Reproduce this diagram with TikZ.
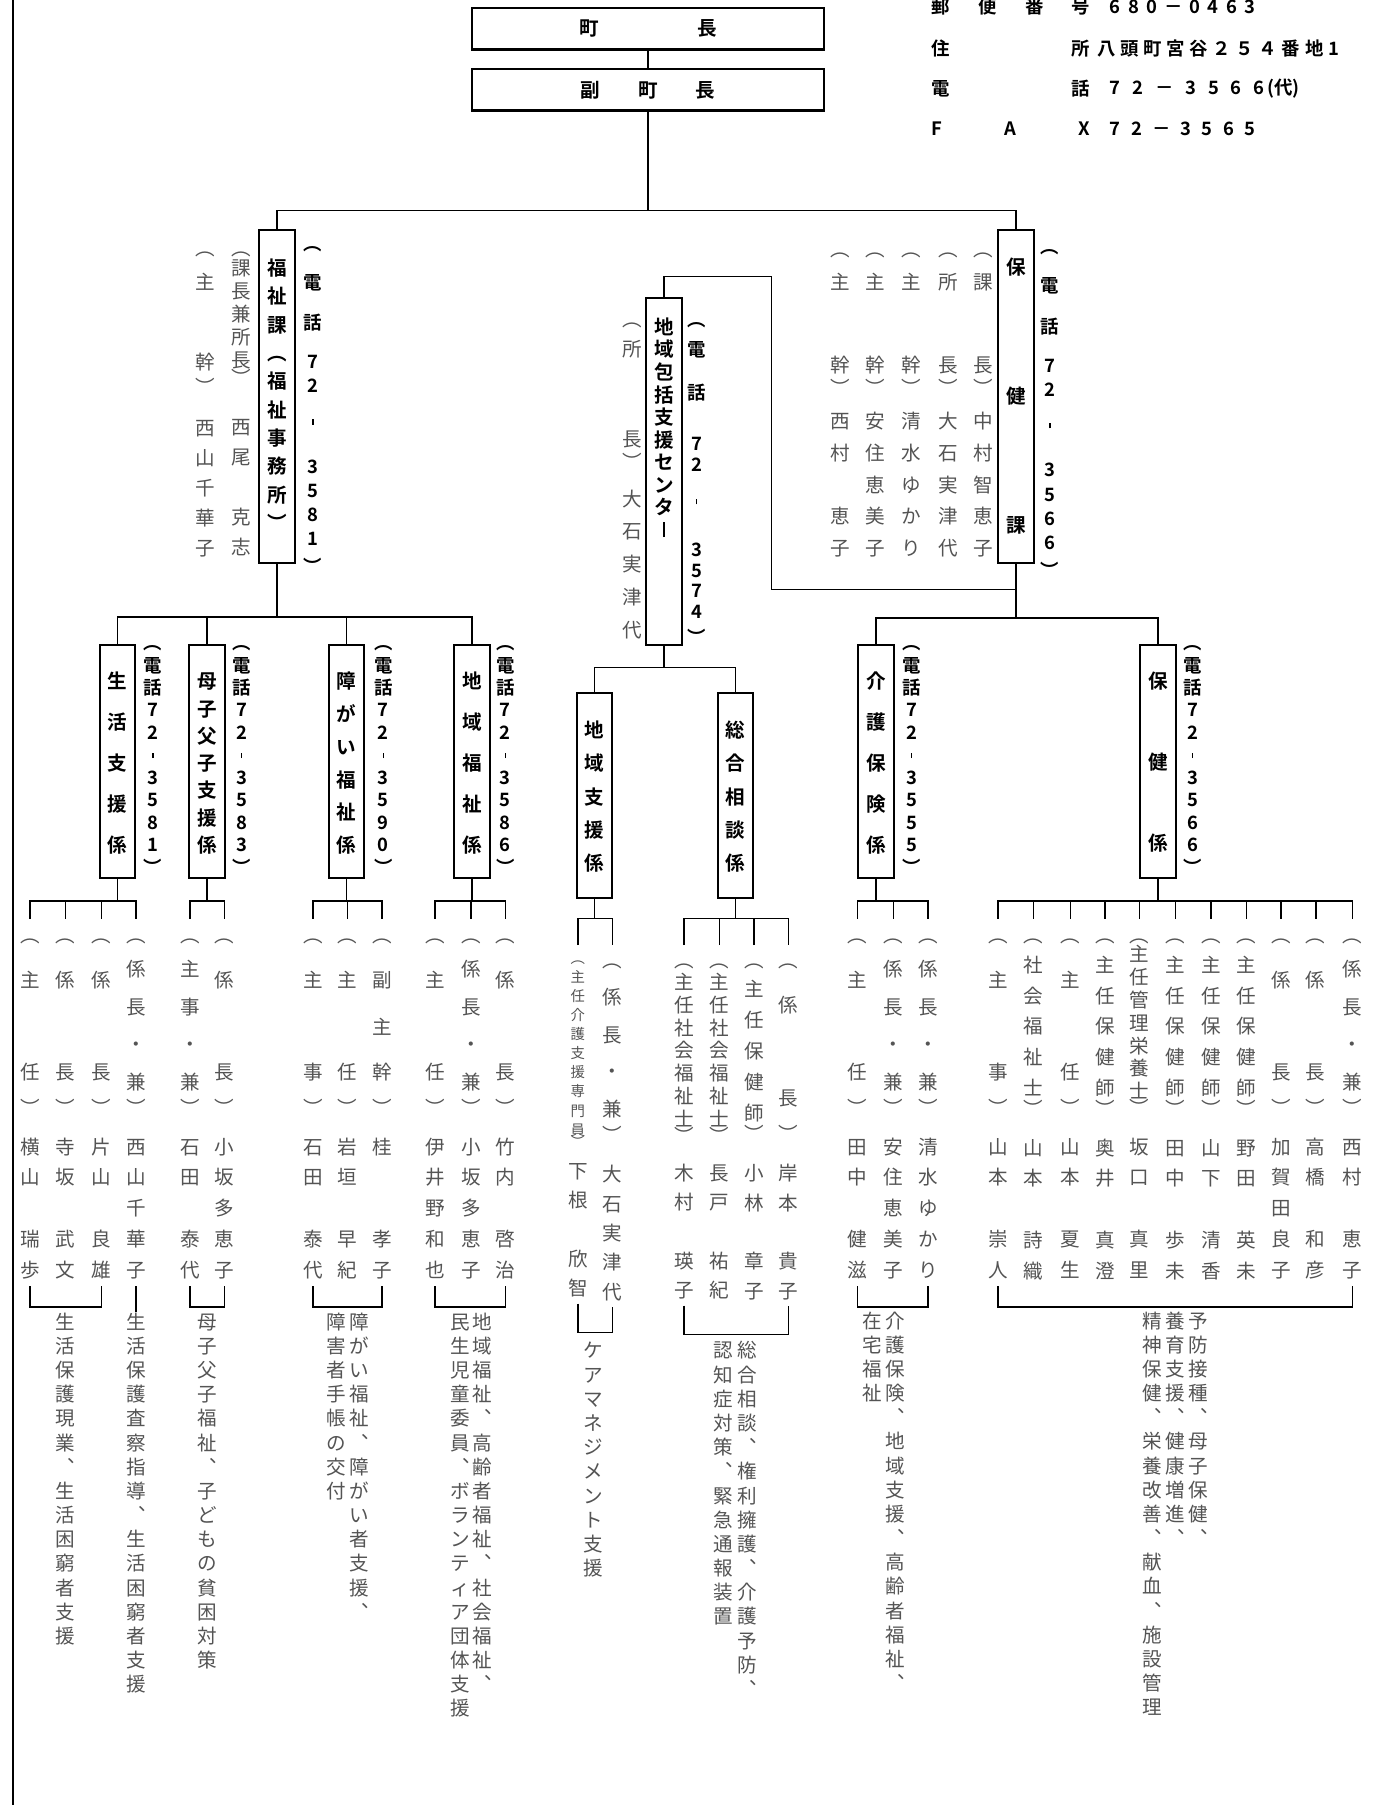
\documentclass[tikz,border=0pt]{standalone}
\usepackage{fontspec}
\setmainfont{Noto Sans CJK JP}[BoldFont={Noto Sans CJK JP Bold}]
\definecolor{txtgray}{gray}{0.33}

% font sizes
\protected\def\fNm{\fontsize{17pt}{20pt}\selectfont}
\protected\def\fSm{\fontsize{12.5pt}{15pt}\selectfont}
\protected\def\fBox{\fontsize{17pt}{20pt}\selectfont\bfseries}
\protected\def\fTel{\fontsize{16pt}{19pt}\selectfont\bfseries}
\protected\def\fHdr{\fontsize{16pt}{19pt}\selectfont\bfseries}

% vertical text: one cell per character
\NewDocumentCommand\vgap{m}{\kern#1\relax}
\NewDocumentCommand\vp{m}{\baselineskip=#1\relax}
\NewDocumentCommand\vf{m}{#1}
\NewDocumentCommand\vb{}{}
\NewDocumentCommand\vd{}{\rule[.2em]{1.3pt}{.3em}}
\NewDocumentCommand\vl{}{\rule[.02em]{1.5pt}{.76em}}
\ExplSyntaxOn
\tl_new:N \l__vt_tl
\cs_new_protected:Npn \__vt_item:n #1
  {
    \tl_if_head_eq_meaning:nNTF {#1} \vgap {#1}
      {
        \tl_if_head_eq_meaning:nNTF {#1} \vp {#1}
          {
            \tl_if_head_eq_meaning:nNTF {#1} \vf {#1}
              { \hbox_to_wd:nn {24pt} { \hfil \vrule ~ height ~ .88em ~ depth ~ .12em ~ width ~ 0pt \relax #1 \hfil } }
          }
      }
  }
\NewDocumentCommand \vs { m m }
  {
    \tl_set:Nx \l__vt_tl {#2}
    \vbox:n
      {
        \skip_set:Nn \baselineskip {#1}
        \lineskiplimit = -\maxdimen
        \lineskip = 0pt
        \tl_map_function:NN \l__vt_tl \__vt_item:n
      }
  }
\ExplSyntaxOff
\NewDocumentCommand\bx{mmmm}{\vbox to #1{\kern#2\relax\vs{#3}{#4}\vfil}}

% titles of the staff columns
\newcommand\tii[2]{︵{\vgap{12.3pt}}#1{\vgap{53.3pt}}#2{\vgap{4.3pt}}︶{\vgap{7.3pt}}}
\newcommand\tiii[3]{︵{\vgap{12.3pt}}#1{\vgap{14.3pt}}#2{\vgap{12.3pt}}#3{\vgap{4.3pt}}︶{\vgap{7.3pt}}}
\newcommand\tiv[4]{︵{\vgap{3.3pt}}#1{\vgap{6.3pt}}#2{\vgap{5.3pt}}#3{\vgap{6.3pt}}#4{\vgap{-4.7pt}}︶{\vgap{7.3pt}}}
\newcommand\tv[5]{︵{\vgap{-0.7pt}}#1#2#3#4#5{\vgap{-8.7pt}}︶{\vgap{7.3pt}}}
\newcommand\tvii[7]{︵{\vp{19.8pt}}{\vgap{-2.8pt}}#1#2#3#4#5#6#7{\vgap{-5.6pt}}︶{\vp{26.7pt}}{\vgap{7.3pt}}}
\newcommand\cii[2]{︵{\vgap{13.5pt}}#1{\vgap{55.5pt}}#2{\vgap{5.5pt}}︶{\vgap{8.5pt}}}
\newcommand\civ[4]{︵{\vgap{6.5pt}}#1{\vgap{7.5pt}}#2{\vgap{5.5pt}}#3{\vgap{7.5pt}}#4{\vgap{-2.5pt}}︶{\vgap{8.5pt}}}
\newcommand\cv[5]{︵{\vp{27pt}}{\vgap{-2pt}}#1#2#3#4#5{\vgap{-9pt}}︶{\vp{25.5pt}}{\vgap{8.5pt}}}
\newcommand\cvii[7]{︵{\vp{19.8pt}}{\vgap{-0.8pt}}#1#2#3#4#5#6#7{\vgap{-4.8pt}}︶{\vp{25.5pt}}{\vgap{6.5pt}}}
\newcommand\kt[2]{︵{\vgap{1.5pt}}#1{\vgap{44.5pt}}#2{\vgap{-7.5pt}}︶{\vgap{1.5pt}}}
% phone numbers
\newcommand\ttel[4]{︵{\vgap{13pt}}電{\vgap{14pt}}話{\vgap{13pt}}72{\vgap{10pt}}\vd {\vgap{18pt}}#1#2#3#4{\vgap{3pt}}︶}
\newcommand\stel[4]{︵電話72\vd #1#2#3#4︶}

\begin{document}
\begin{tikzpicture}[x=1pt, y=-1pt,
  conn/.style={line width=1.3pt},
  topbox/.style={draw, line width=1.8pt, minimum width=306pt, minimum height=36pt, inner sep=0pt, font=\fBox},
  secbox/.style={draw, line width=1.8pt, minimum width=31pt, inner sep=0pt, font=\fBox},
  tel/.style={anchor=north, inner sep=0pt, font=\fTel},
  col/.style={anchor=north, inner sep=0pt, font=\fNm, text=txtgray},
  mem/.style={col, inner ysep=5.5pt},
  cmem/.style={col, inner ysep=4.5pt},
  hdr/.style={anchor=west, inner sep=0pt, font=\fHdr}]
\useasboundingbox (0,0) rectangle (1192,1568);
\draw[line width=1.6pt] (11,0) -- (11,1568);

% header
\node[topbox] (chou) at (563,25) {町\hspace{86pt}長};
\node[topbox] (fuku) at (563,78) {副\hspace{33pt}町\hspace{33pt}長};
\node[hdr] (zip-l) at (809,6) {\makebox[138pt][s]{郵\hfill 便\hfill 番\hfill 号}};
\node[hdr] (zip-v) at (964,6) {\makebox[126pt][s]{6\hfill 8\hfill 0\hfill －\hfill 0\hfill 4\hfill 6\hfill 3}};
\node[hdr] (adr-l) at (809,42) {\makebox[138pt][s]{住\hfill 所}};
\node[hdr] (adr-v) at (953,42) {\makebox[210pt][s]{八\hfill 頭\hfill 町\hfill 宮\hfill 谷\hfill ２\hfill ５\hfill ４\hfill 番\hfill 地\hfill 1}};
\node[hdr] (tel-l) at (809,77) {\makebox[138pt][s]{電\hfill 話}};
\node[hdr] (tel-v) at (964,77) {\makebox[134pt][s]{7\hfill 2\hfill －\hfill 3\hfill 5\hfill 6\hfill 6}\,(代)};
\node[hdr] (fax-l) at (809,112) {\makebox[138pt][s]{F\hfill A\hfill X}};
\node[hdr] (fax-v) at (964,112) {\makebox[126pt][s]{7\hfill 2\hfill －\hfill 3\hfill 5\hfill 6\hfill 5}};

% sections
\node[secbox, minimum height=289pt] (fukushi) at (240.5,344.5) {\bx{289pt}{24.5pt}{24.6pt}{福祉課︵福祉事務所︶}};
\node[tel] (fukushi-tel) at (272,203) {\vs{21pt}{\ttel3581}};
\node[col] (fukushi-n1) at (210,206.5) {\vs{20pt}{︵{\vgap{-2pt}}課長兼所長{\vgap{-5pt}}︶{\vp{26pt}}{\vgap{17pt}}西尾\vb 克志}};
\node[col] (fukushi-n2) at (178,206.5) {\vs{26pt}{︵{\vgap{4pt}}主{\vgap{43pt}}幹{\vgap{-4pt}}︶{\vgap{10pt}}西山千華子}};

\node[secbox, minimum height=289pt] (hokenka) at (882.5,344.5) {\bx{289pt}{23.5pt}{112pt}{保健課}};
\node[tel] (hokenka-tel) at (912,206) {\vs{21pt}{\ttel3566}};
\node[col] (hokenka-n1) at (854,207.5) {\vs{27.5pt}{\kt{課}{長}中村智恵子}};
\node[col] (hokenka-n2) at (824,207.5) {\vs{27.5pt}{\kt{所}{長}大石実津代}};
\node[col] (hokenka-n3) at (792,207.5) {\vs{27.5pt}{\kt{主}{幹}清水ゆかり}};
\node[col] (hokenka-n4) at (760,207.5) {\vs{27.5pt}{\kt{主}{幹}安住恵美子}};
\node[col] (hokenka-n5) at (730,207.5) {\vs{27.5pt}{\kt{主}{幹}西村\vb 恵子}};

\node[secbox, minimum height=301pt] (houkatsu) at (577,409.5) {\bx{301pt}{16.5pt}{19.6pt}{地域包括支援センタ\vl}};
\node[tel] (houkatsu-tel) at (605,269) {\vs{18pt}{︵{\vgap{8pt}}電{\vgap{20pt}}話{\vgap{26pt}}72{\vgap{14pt}}\vd {\vgap{24pt}}3574{\vgap{5pt}}︶}};
\node[col] (houkatsu-n1) at (549,268.5) {\vs{28.5pt}{︵{\vgap{-2.5pt}}所{\vgap{49.5pt}}長{\vgap{-8.5pt}}︶{\vgap{3.5pt}}大石実津代}};

% units
\node[secbox, minimum height=203pt] (seikatsu) at (102,661.5) {\bx{203pt}{23.5pt}{35.5pt}{生活支援係}};
\node[tel] (seikatsu-tel) at (133,550) {\vs{19.5pt}{\stel3581}};
\node[secbox, minimum height=203pt] (boshi) at (180,661.5) {\bx{203pt}{23.5pt}{23.67pt}{母子父子支援係}};
\node[tel] (boshi-tel) at (210,550) {\vs{19.5pt}{\stel3583}};
\node[secbox, minimum height=203pt] (shogai) at (301,661.5) {\bx{203pt}{23.5pt}{28.4pt}{障がい福祉係}};
\node[tel] (shogai-tel) at (333,550) {\vs{19.5pt}{\stel3590}};
\node[secbox, minimum height=203pt] (chiikifk) at (410,661.5) {\bx{203pt}{23.5pt}{35.5pt}{地域福祉係}};
\node[tel] (chiikifk-tel) at (439,550) {\vs{19.5pt}{\stel3586}};
\node[secbox, minimum height=178pt] (chsien) at (516.5,691) {\bx{178pt}{23.5pt}{29pt}{地域支援係}};
\node[secbox, minimum height=178pt] (sogo) at (639,691) {\bx{178pt}{23.5pt}{29pt}{総合相談係}};
\node[secbox, minimum height=203pt] (kaigo) at (761,661.5) {\bx{203pt}{23.5pt}{35.5pt}{介護保険係}};
\node[tel] (kaigo-tel) at (792,550) {\vs{19.5pt}{\stel3555}};
\node[secbox, minimum height=203pt] (hokenkk) at (1006,661.5) {\bx{203pt}{23.5pt}{70pt}{保健係}};
\node[tel] (hokenkk-tel) at (1036,550) {\vs{19.5pt}{\stel3566}};

% staff
\node[mem] (sk1) at (26,798) {\vs{26.7pt}{\tii{主}{任}横山\vb 瑞歩}};
\node[mem] (sk2) at (57,798) {\vs{26.7pt}{\tii{係}{長}寺坂\vb 武文}};
\node[mem] (sk3) at (88,798) {\vs{26.7pt}{\tii{係}{長}片山\vb 良雄}};
\node[mem] (sk4) at (118,798) {\vs{26.7pt}{\tiv{係}{長}{・}{兼}西山千華子}};
\node[mem] (bs1) at (165,798) {\vs{26.7pt}{\tiv{主}{事}{・}{兼}石田\vb 泰代}};
\node[mem] (bs2) at (195,798) {\vs{26.7pt}{\tii{係}{長}小坂多恵子}};
\node[mem] (sg1) at (272,798) {\vs{26.7pt}{\tii{主}{事}石田\vb 泰代}};
\node[mem] (sg2) at (302,798) {\vs{26.7pt}{\tii{主}{任}岩垣\vb 早紀}};
\node[mem] (sg3) at (332,798) {\vs{26.7pt}{\tiii{副}{主}{幹}桂\vb \vb 孝子}};
\node[mem] (cf1) at (378,798) {\vs{26.7pt}{\tii{主}{任}伊井野和也}};
\node[mem] (cf2) at (409,798) {\vs{26.7pt}{\tiv{係}{長}{・}{兼}小坂多恵子}};
\node[mem] (cf3) at (439,798) {\vs{26.7pt}{\tii{係}{長}竹内\vb 啓治}};
\node[cmem] (cs1) at (502,821) {\vs{16.6pt}{{\vf{\fSm}}{\vp{16.6pt}}︵主任介護支援専門員{\vgap{-5.5pt}}︶{\vf{\fNm}}{\vp{25.5pt}}{\vgap{1pt}}下根\vb 欣智}};
\node[cmem] (cs2) at (532,821) {\vs{25.5pt}{\civ{係}{長}{・}{兼}大石実津代}};
\node[cmem] (so1) at (594,821) {\vs{25.5pt}{\cvii{主}{任}{社}{会}{福}{祉}{士}木村\vb 瑛子}};
\node[cmem] (so2) at (625,821) {\vs{25.5pt}{\cvii{主}{任}{社}{会}{福}{祉}{士}長戸\vb 祐紀}};
\node[cmem] (so3) at (655,821) {\vs{25.5pt}{\cv{主}{任}{保}{健}{師}小林\vb 章子}};
\node[cmem] (so4) at (685,821) {\vs{25.5pt}{\cii{係}{長}岸本\vb 貴子}};
\node[mem] (kg1) at (745,798) {\vs{26.7pt}{\tii{主}{任}田中\vb 健滋}};
\node[mem] (kg2) at (776,798) {\vs{26.7pt}{\tiv{係}{長}{・}{兼}安住恵美子}};
\node[mem] (kg3) at (806,798) {\vs{26.7pt}{\tiv{係}{長}{・}{兼}清水ゆかり}};
\node[mem] (hk1) at (867,798) {\vs{26.7pt}{\tii{主}{事}山本\vb 崇人}};
\node[mem] (hk2) at (898,798) {\vs{26.7pt}{\tv{社}{会}{福}{祉}{士}山本\vb 詩織}};
\node[mem] (hk3) at (930,798) {\vs{26.7pt}{\tii{主}{任}山本\vb 夏生}};
\node[mem] (hk4) at (960,798) {\vs{26.7pt}{\tv{主}{任}{保}{健}{師}奥井\vb 真澄}};
\node[mem] (hk5) at (990,798) {\vs{26.7pt}{\tvii{主}{任}{管}{理}{栄}{養}{士}坂口\vb 真里}};
\node[mem] (hk6) at (1021,798) {\vs{26.7pt}{\tv{主}{任}{保}{健}{師}田中\vb 歩未}};
\node[mem] (hk7) at (1052,798) {\vs{26.7pt}{\tv{主}{任}{保}{健}{師}山下\vb 清香}};
\node[mem] (hk8) at (1083,798) {\vs{26.7pt}{\tv{主}{任}{保}{健}{師}野田\vb 英未}};
\node[mem] (hk9) at (1113,798) {\vs{26.7pt}{\tii{係}{長}加賀田良子}};
\node[mem] (hk10) at (1143,798) {\vs{26.7pt}{\tii{係}{長}高橋\vb 和彦}};
\node[mem] (hk11) at (1175,798) {\vs{26.7pt}{\tiv{係}{長}{・}{兼}西村\vb 恵子}};

% duties
\node[col] (d-sk1) at (57,1139.5) {\vs{21pt}{生活保護現業︑生活困窮者支援}};
\node[col] (d-sk2) at (118,1139.5) {\vs{21pt}{生活保護査察指導︑生活困窮者支援}};
\node[col] (d-bs) at (180,1139.5) {\vs{21pt}{母子父子福祉︑子どもの貧困対策}};
\node[col] (d-sg1) at (312,1139.5) {\vs{21pt}{障がい福祉︑障がい者支援︑}};
\node[col] (d-sg2) at (292,1139.5) {\vs{21pt}{障害者手帳の交付}};
\node[col] (d-cf1) at (419,1139.5) {\vs{21pt}{地域福祉︑高齢者福祉︑社会福祉︑}};
\node[col] (d-cf2) at (400,1139.5) {\vs{21pt}{民生児童委員︑ボランティア団体支援}};
\node[col] (d-cs) at (515,1164.5) {\vs{21pt}{ケアマネジメント支援}};
\node[col] (d-so1) at (649,1164.5) {\vs{21pt}{総合相談︑権利擁護︑介護予防︑}};
\node[col] (d-so2) at (628,1164.5) {\vs{21pt}{認知症対策︑緊急通報装置}};
\node[col] (d-kg1) at (778,1138.5) {\vs{21pt}{介護保険︑地域支援︑高齢者福祉︑}};
\node[col] (d-kg2) at (758,1138.5) {\vs{21pt}{在宅福祉}};
\node[col] (d-hk1) at (1041,1138.5) {\vs{21pt}{予防接種︑母子保健︑}};
\node[col] (d-hk2) at (1021,1138.5) {\vs{21pt}{養育支援︑健康増進︑}};
\node[col] (d-hk3) at (1001,1138.5) {\vs{21pt}{精神保健︑栄養改善︑献血︑施設管理}};

% lines
\coordinate (bus-top) at (563,183);
\coordinate (hc-turn) at (670,240);
\coordinate (hk-join) at (882.5,512);
\coordinate (bus-hk) at (882.5,537);
\coordinate (bus-fk) at (240.5,536);
\coordinate (bus-hc) at (577,580);
\draw[conn] (chou) -- (fuku);
\draw[conn] (fuku) -- (bus-top);
\draw[conn] (fukushi.north) |- (bus-top) -| (hokenka.north);
\draw[conn] (houkatsu.north) |- (hc-turn) |- (hk-join);
\draw[conn] (hokenka.south) -- (bus-hk);
\draw[conn] (kaigo.north) |- (bus-hk) -| (hokenkk.north);
\draw[conn] (fukushi.south) -- (bus-fk);
\draw[conn] (seikatsu.north) |- (bus-fk) -| (chiikifk.north);
\foreach \b in {boshi,shogai} \draw[conn] (\b.north) -- (\b.north |- bus-fk);
\draw[conn] (houkatsu.south) -- (bus-hc);
\draw[conn] (chsien.north) |- (bus-hc) -| (sogo.north);

\draw[conn] (seikatsu.south) -- ++(0,19) coordinate (bus-sk);
\draw[conn] (sk1.north) |- (bus-sk) -| (sk4.north);
\foreach \m in {sk2,sk3} \draw[conn] (\m.north) -- (\m.north |- bus-sk);
\draw[conn] (boshi.south) -- ++(0,19) coordinate (bus-bs);
\draw[conn] (bs1.north) |- (bus-bs) -| (bs2.north);
\draw[conn] (shogai.south) -- ++(0,19) coordinate (bus-sg);
\draw[conn] (sg1.north) |- (bus-sg) -| (sg3.north);
\draw[conn] (sg2.north) -- (sg2.north |- bus-sg);
\draw[conn] (chiikifk.south) -- ++(0,19) coordinate (bus-cf);
\draw[conn] (cf1.north) |- (bus-cf) -| (cf3.north);
\draw[conn] (cf2.north) -- (cf2.north |- bus-cf);
\draw[conn] (chsien.south) -- ++(0,17) coordinate (bus-cs);
\draw[conn] (cs1.north) |- (bus-cs) -| (cs2.north);
\draw[conn] (sogo.south) -- ++(0,17) coordinate (bus-so);
\draw[conn] (so1.north) |- (bus-so) -| (so4.north);
\foreach \m in {so2,so3} \draw[conn] (\m.north) -- (\m.north |- bus-so);
\draw[conn] (kaigo.south) -- ++(0,19) coordinate (bus-kg);
\draw[conn] (kg1.north) |- (bus-kg) -| (kg3.north);
\draw[conn] (kg2.north) -- (kg2.north |- bus-kg);
\draw[conn] (hokenkk.south) -- ++(0,19) coordinate (bus-hkk);
\draw[conn] (hk1.north) |- (bus-hkk) -| (hk11.north);
\foreach \m in {hk2,hk3,hk4,hk5,hk6,hk7,hk8,hk9,hk10} \draw[conn] (\m.north) -- (\m.north |- bus-hkk);

% brackets to duties
\draw[conn] (sk1.south) -- ++(0,18) -| (sk3.south);
\draw[conn] (sk4.south) -- (d-sk2.north);
\draw[conn] (bs1.south) -- ++(0,18) -| (bs2.south);
\draw[conn] (sg1.south) -- ++(0,18) -| (sg3.south);
\draw[conn] (cf1.south) -- ++(0,18) -| (cf3.south);
\draw[conn] (cs1.south) -- ++(0,25) -| (cs2.south);
\draw[conn] (so1.south) -- ++(0,25) -| (so4.south);
\draw[conn] (kg1.south) -- ++(0,18) -| (kg3.south);
\draw[conn] (hk1.south) -- ++(0,18) -| (hk11.south);
\end{tikzpicture}
\end{document}
